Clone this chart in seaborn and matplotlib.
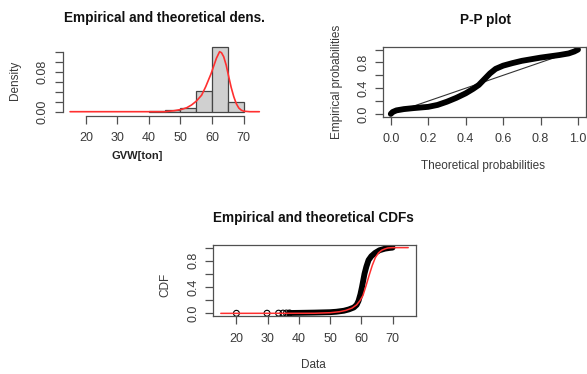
import matplotlib
matplotlib.use("Agg")
import matplotlib.pyplot as plt
import seaborn as sns
import numpy as np
import pandas as pd

# ---------------- data ----------------
hist_edges = [40, 45, 50, 55, 60, 65, 70]
hist_density = [0.0015, 0.003, 0.007, 0.0414, 0.13, 0.019]

dens_x = [15, 45, 48, 50.4, 52, 53.5, 55, 56.7, 58, 59.7, 61.4, 62.4, 63.0, 63.7,
          64.5, 65.3, 66.1, 66.9, 67.7, 68.5, 69.3, 70.1, 72, 75]
dens_y = [0.0, 0.0, 0.002, 0.0047, 0.008, 0.0134, 0.021, 0.033, 0.05, 0.076, 0.107, 0.12,
          0.118, 0.11, 0.093, 0.07, 0.048, 0.03, 0.016, 0.0073, 0.003, 0.001, 0.0, 0.0]

pp_theo = [0.0, 0.01, 0.03, 0.07, 0.12, 0.2, 0.25, 0.3, 0.35, 0.4, 0.44, 0.47, 0.5,
           0.53, 0.56, 0.6, 0.65, 0.7, 0.75, 0.8, 0.85, 0.9, 0.95, 0.98, 1.0]
pp_emp = [0.0, 0.03, 0.055, 0.075, 0.09, 0.11, 0.14, 0.19, 0.25, 0.32, 0.39, 0.45, 0.54,
          0.63, 0.70, 0.75, 0.79, 0.825, 0.85, 0.875, 0.895, 0.915, 0.94, 0.97, 1.0]

ecdf_iso_x = [20, 29.8, 33.5, 34.9, 36, 37]
ecdf_iso_y = [0.001, 0.002, 0.003, 0.004, 0.005, 0.006]

cdf_emp_x = [37, 40, 45, 50, 52, 54.4, 56, 57.6, 58.5, 59.1, 59.7, 60.2, 60.6, 61.0,
             61.6, 62.3, 63.2, 64.4, 65.8, 67.6, 69, 70]
cdf_emp_y = [0.006, 0.008, 0.012, 0.018, 0.025, 0.04, 0.06, 0.09, 0.13, 0.19, 0.29, 0.40,
             0.50, 0.60, 0.71, 0.81, 0.87, 0.92, 0.96, 0.985, 0.995, 1.0]

cdf_fit_x = [15, 45, 50, 53, 55, 57, 58.5, 59.5, 60.5, 61.5, 62.5, 63.5, 64.5, 65.5,
             66.5, 67.5, 68.5, 70, 75]
cdf_fit_y = [0.0, 0.002, 0.01, 0.025, 0.045, 0.08, 0.13, 0.19, 0.27, 0.42, 0.58, 0.73,
             0.85, 0.92, 0.96, 0.98, 0.995, 1.0, 1.0]

x_ticks = [20, 30, 40, 50, 60, 70]
dens_yticks = [0.0, 0.02, 0.04, 0.06, 0.08, 0.10, 0.12]
dens_ylabels = ["0.00", "", "", "", "0.08", "", ""]
p_ticks = [0.0, 0.2, 0.4, 0.6, 0.8, 1.0]
p_xlabels = ["0.0", "0.2", "0.4", "0.6", "0.8", "1.0"]
p_ylabels = ["0.0", "", "0.4", "", "0.8", ""]

# ---------------- style ----------------
sns.set_style("white")
plt.rcParams["font.family"] = ["Liberation Sans", "DejaVu Sans"]
plt.rcParams["font.size"] = 8

W, H = 587, 374
fig = plt.figure(figsize=(W / 100, H / 100), dpi=100)

def px_axes(l, t, r, b):
    return fig.add_axes([l / W, 1 - b / H, (r - l) / W, (b - t) / H])

AX_COL = "#505050"
TXT_COL = "#3a3a3a"
RED = "#ff3030"

def style_ticks(ax):
    ax.tick_params(axis="both", direction="out", length=5.5, width=0.9,
                   colors=AX_COL, labelcolor=TXT_COL, labelsize=9)
    ax.tick_params(axis="x", pad=6.5)
    ax.tick_params(axis="y", pad=4.5)
    ax.tick_params(left=True, bottom=True)

# ---------------- panel 1: density ----------------
ax1 = px_axes(62.5, 44, 266.9, 115.5)
mids = [(a + b) / 2 for a, b in zip(hist_edges[:-1], hist_edges[1:])]
sns.histplot(x=mids, weights=hist_density, bins=hist_edges, stat="count", ax=ax1,
             color="#d0d0d0", edgecolor="#454545", linewidth=0.9, alpha=1)
sns.lineplot(x=dens_x, y=dens_y, ax=ax1, color=RED, linewidth=1.2,
             estimator=None, sort=False)
ax1.set_xlim(12.6, 77.4)
ax1.set_ylim(-0.0076, 0.1354)
ax1.set_xticks(x_ticks)
ax1.set_yticks(dens_yticks)
ax1.set_yticklabels(dens_ylabels, rotation=90, va="center")
for s in ["top", "right"]:
    ax1.spines[s].set_visible(False)
ax1.spines["left"].set_bounds(0, 0.12)
ax1.spines["bottom"].set_bounds(20, 70)
for s in ["left", "bottom"]:
    ax1.spines[s].set_color(AX_COL)
    ax1.spines[s].set_linewidth(0.9)
style_ticks(ax1)
ax1.set_xlabel("")
ax1.set_ylabel("")
fig.text(15 / W, 1 - 80 / H, "Density", rotation=90, ha="center", va="center",
         fontsize=8.5, color=TXT_COL)
fig.text(137 / W, 1 - 156 / H, "GVW[ton]", ha="center", va="center",
         fontsize=8, fontweight="bold", color="#222222")
fig.text(164 / W, 1 - 18 / H, "Empirical and theoretical dens.", ha="center",
         va="center", fontsize=9.8, fontweight="bold", color="#111111")

# ---------------- panel 2: P-P plot ----------------
ax2 = px_axes(383.3, 47, 585.5, 116.5)
sns.lineplot(x=[0, 1], y=[0, 1], ax=ax2, color="#333333", linewidth=0.8,
             estimator=None)
sns.lineplot(x=pp_theo, y=pp_emp, ax=ax2, color="black", linewidth=4.2,
             estimator=None, sort=False)
ax2.set_xlim(-0.04, 1.04)
ax2.set_ylim(-0.04, 1.04)
ax2.set_xticks(p_ticks)
ax2.set_xticklabels(p_xlabels)
ax2.set_yticks(p_ticks)
ax2.set_yticklabels(p_ylabels, rotation=90, va="center")
for s in ax2.spines.values():
    s.set_color(AX_COL)
    s.set_linewidth(0.9)
style_ticks(ax2)
ax2.set_xlabel("")
ax2.set_ylabel("")
fig.text(337 / W, 1 - 82 / H, "Empirical probabilities", rotation=90, ha="center",
         va="center", fontsize=8.5, color=TXT_COL)
fig.text(483 / W, 1 - 166.5 / H, "Theoretical probabilities", ha="center",
         va="center", fontsize=8.5, color=TXT_COL)
fig.text(485 / W, 1 - 20 / H, "P-P plot", ha="center", va="center",
         fontsize=9.8, fontweight="bold", color="#111111")

# ---------------- panel 3: CDFs ----------------
ax3 = px_axes(213.3, 245, 415.7, 316)
sns.lineplot(x=cdf_emp_x, y=cdf_emp_y, ax=ax3, color="black", linewidth=4.2,
             estimator=None, sort=False)
sns.scatterplot(x=ecdf_iso_x, y=ecdf_iso_y, ax=ax3, marker="o", s=18,
                facecolor="none", edgecolor="black", linewidth=0.8)
sns.lineplot(x=cdf_fit_x, y=cdf_fit_y, ax=ax3, color=RED, linewidth=1.1,
             estimator=None, sort=False)
ax3.set_xlim(12.6, 77.4)
ax3.set_ylim(-0.04, 1.04)
ax3.set_xticks(x_ticks)
ax3.set_yticks(p_ticks)
ax3.set_yticklabels(p_ylabels, rotation=90, va="center")
for s in ax3.spines.values():
    s.set_color(AX_COL)
    s.set_linewidth(0.9)
style_ticks(ax3)
ax3.set_xlabel("")
ax3.set_ylabel("")
fig.text(165 / W, 1 - 285 / H, "CDF", rotation=90, ha="center", va="center",
         fontsize=8.5, color=TXT_COL)
fig.text(313 / W, 1 - 365 / H, "Data", ha="center", va="center",
         fontsize=8.5, color=TXT_COL)
fig.text(313 / W, 1 - 218 / H, "Empirical and theoretical CDFs", ha="center",
         va="center", fontsize=9.8, fontweight="bold", color="#111111")

fig.savefig("out.png", dpi=100)
